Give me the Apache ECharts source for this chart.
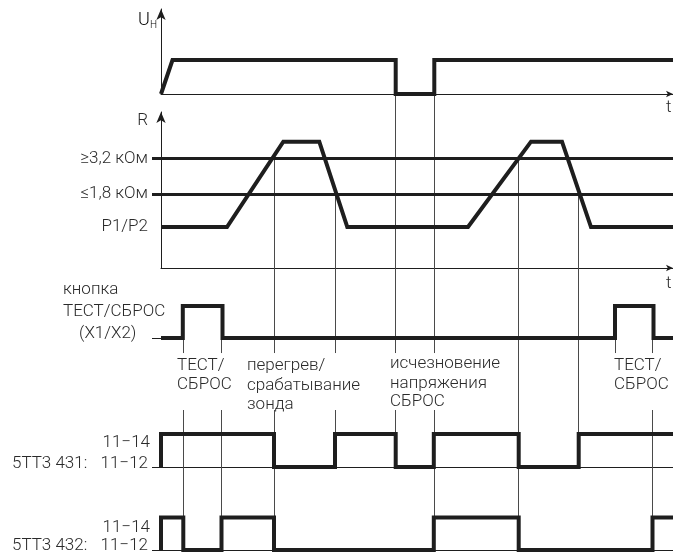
<!DOCTYPE html>
<html>
<head>
<meta charset="utf-8">
<title>Временная диаграмма 5TT3 431 / 5TT3 432</title>
<script src="https://cdn.jsdelivr.net/npm/echarts@6/dist/echarts.min.js"></script>
<style>
  html, body { margin: 0; padding: 0; background: #fff; }
  #chart { width: 673px; height: 553px; }
</style>
</head>
<body>
<div id="chart"></div>
<script>
// --- данные (время в условных единицах от начала оси) ---
const T_MAX = 512

// напряжение питания U_H: 0 = нет, 1 = есть
const uhPoints = [[0, 0], [11.5, 1], [234.7, 1], [234.7, 0], [273.3, 0], [273.3, 1], [512, 1]]

// сопротивление датчика R (условная шкала)
const rLevelValues = [1.05, 1.9, 2.81]
const rLevelLabels = ['P1/P2', '≤1,8 кОм', '≥3,2 кОм']
const rThresholds = [1.9, 2.81]
const rPoints = [[0, 1.05], [66, 1.05], [122.3, 3.24], [158.3, 3.24], [186.3, 1.05],
  [307, 1.05], [370, 3.24], [401, 3.24], [430, 1.05], [512, 1.05]]

// кнопка ТЕСТ/СБРОС (ступенчатый сигнал)
const buttonSteps = [[0, 0], [21.8, 1], [61.5, 0], [454, 1], [492.5, 0], [512, 0]]

// выходные реле: 1 = 11–14, 0 = 11–12
const relay431Steps = [[0, 0], [0, 1], [113, 0], [174, 1], [234.7, 0], [272.8, 1], [357.7, 0], [417.7, 1], [512, 1]]
const relay432Steps = [[0, 0], [0, 1], [22.3, 0], [60.5, 1], [113, 0], [272.8, 1], [357.7, 0], [491.5, 1], [512, 1]]

// вертикальные линии событий: [t, строка от, уровень от, строка до, уровень до]
// строки: 0 U_H, 1 R, 2 кнопка, 3 реле 431, 4 реле 432
const GAP_TOP = -0.47   // конец короткой риски под кнопкой
const GAP_BOT = -2.25   // продолжение под подписями
const guideSegments = [
  [21.8, 2, 0, 2, GAP_TOP], [21.8, 2, GAP_BOT, 4, 1],
  [60.5, 2, 0, 2, GAP_TOP], [60.5, 2, GAP_BOT, 4, 1],
  [113, 1, 2.81, 2, GAP_TOP], [113, 2, GAP_BOT, 4, 1],
  [174, 1, 1.9, 2, GAP_TOP], [174, 2, GAP_BOT, 3, 1],
  [234.7, 0, 0, 2, GAP_TOP], [234.7, 2, GAP_BOT, 3, 1],
  [273.3, 0, 0, 2, GAP_TOP], [273.3, 2, GAP_BOT, 4, 1],
  [357.7, 1, 2.81, 4, 1],
  [417.7, 1, 1.9, 3, 1],
  [454, 2, 0, 2, GAP_TOP],
  [491.5, 2, 0, 2, GAP_TOP], [491.5, 2, GAP_BOT, 4, 1]
]

// --- оформление ---
const INK = '#1e1e1e'
const TEXT = '#2a2a2a'
const FONT = 'Roboto'
const FS = 17
const THICK = 4

const chart = echarts.init(document.getElementById('chart'))

const grids = [
  { left: 161, right: 0, top: 9, height: 85 },      // U_H
  { left: 161, right: 0, top: 112, height: 156 },   // R
  { left: 161, right: 0, top: 306, height: 32 },    // кнопка
  { left: 161, right: 0, top: 434, height: 33 },    // 5TT3 431
  { left: 161, right: 0, top: 517.5, height: 32.5 },// 5TT3 432
  { left: 161, right: 0, top: 0, height: 553 }      // слой для линий событий
]

const arrowAxis = (size) => ({
  show: true,
  symbol: ['none', 'arrow'],
  symbolSize: size,
  lineStyle: { color: INK, width: 1 }
})

const xAxes = grids.map((g, i) => ({
  gridIndex: i,
  type: 'value',
  min: 0,
  max: T_MAX,
  show: i < 5,
  axisLine: i < 2 ? arrowAxis([5, 7]) : { show: i === 3 || i === 4, lineStyle: { color: INK, width: 1 } },
  axisTick: { show: false },
  axisLabel: { show: false },
  splitLine: { show: false }
}))

const yAxes = [
  { gridIndex: 0, type: 'value', min: 0, max: 2.5, axisLine: arrowAxis([7, 11]),
    axisTick: { show: false }, axisLabel: { show: false }, splitLine: { show: false } },
  { gridIndex: 1, type: 'value', min: 0, max: 4, axisLine: arrowAxis([7, 11]),
    axisTick: { show: true, customValues: rThresholds, length: 9, lineStyle: { color: INK, width: 3 } },
    axisLabel: {
      show: true, customValues: rLevelValues, margin: 13,
      color: TEXT, fontFamily: FONT, fontWeight: 300, fontSize: FS,
      formatter: (v) => rLevelLabels[rLevelValues.indexOf(v)]
    },
    splitLine: { show: false } },
  ...[2, 3, 4].map(i => ({
    gridIndex: i, type: 'value', min: 0, max: 1,
    axisLine: { show: false },
    axisTick: { show: true, customValues: [0], length: 9, lineStyle: { color: INK, width: 1 } },
    axisLabel: { show: false }, splitLine: { show: false }
  })),
  { gridIndex: 5, type: 'value', min: 0, max: 553, inverse: true, show: false }
]

const signal = (idx, data, step) => ({
  type: 'line',
  xAxisIndex: idx,
  yAxisIndex: idx,
  data,
  step: step || false,
  symbol: 'none',
  clip: false,
  z: 5,
  lineStyle: { color: INK, width: THICK, join: 'miter' }
})

const txt = (x, y, text, opts) => ({
  type: 'text',
  x, y,
  style: Object.assign({
    text, fill: TEXT, font: `300 ${FS}px ${FONT}`,
    textVerticalAlign: 'middle', textAlign: 'left'
  }, opts || {})
})

const graphic = [
  { type: 'text', x: 157, y: 20, style: {
      text: '{u|U}{h|H}', textAlign: 'right', textVerticalAlign: 'middle',
      rich: { u: { fontSize: 18, fontFamily: FONT, fontWeight: 300, color: TEXT },
              h: { fontSize: 10, fontFamily: FONT, fontWeight: 300, color: TEXT, padding: [10, 0, 0, 0] } } } },
  txt(148, 121, 'R', { textAlign: 'right' }),
  txt(666, 108, 't'),
  txt(666, 284, 't'),
  txt(63, 290, 'кнопка'),
  txt(63, 312, 'ТЕСТ/СБРОС'),
  txt(79, 334, '(X1/X2)'),
  txt(177, 366, 'ТЕСТ/'),
  txt(177, 385, 'СБРОС'),
  txt(247, 366, 'перегрев/'),
  txt(247, 386, 'срабатывание'),
  txt(247, 405, 'зонда'),
  txt(390, 364, 'исчезновение'),
  txt(390, 384, 'напряжения'),
  txt(390, 402, 'СБРОС'),
  txt(614, 366, 'ТЕСТ/'),
  txt(614, 385, 'СБРОС'),
  txt(150, 443, '11−14', { textAlign: 'right' }),
  txt(12, 464, '5TT3 431:'),
  txt(148, 464, '11−12', { textAlign: 'right' }),
  txt(150, 528, '11−14', { textAlign: 'right' }),
  txt(12, 546, '5TT3 432:'),
  txt(148, 546, '11−12', { textAlign: 'right' })
]

const baseSeries = [
  signal(0, uhPoints),
  Object.assign(signal(1, rPoints), {
    markLine: {
      silent: true, symbol: 'none', label: { show: false },
      lineStyle: { color: INK, width: 3, type: 'solid' },
      data: rThresholds.map(v => ({ yAxis: v }))
    }
  }),
  signal(2, buttonSteps, 'end'),
  signal(3, relay431Steps, 'end'),
  signal(4, relay432Steps, 'end')
]

chart.setOption({
  animation: false,
  grid: grids,
  xAxis: xAxes,
  yAxis: yAxes,
  graphic,
  series: baseSeries
})

// линии событий: концы берутся из шкал соответствующих строк
const toOverlay = (row, t, level) => {
  const px = chart.convertToPixel({ gridIndex: row }, [t, level])
  return chart.convertFromPixel({ gridIndex: 5 }, px)
}

chart.setOption({
  series: [...baseSeries, {
    type: 'lines',
    coordinateSystem: 'cartesian2d',
    xAxisIndex: 5,
    yAxisIndex: 5,
    z: 1,
    silent: true,
    lineStyle: { color: '#4a4a4a', width: 1, opacity: 1 },
    data: guideSegments.map(([t, r1, l1, r2, l2]) => ({
      coords: [toOverlay(r1, t, l1), toOverlay(r2, t, l2)]
    }))
  }]
})
</script>
</body>
</html>
